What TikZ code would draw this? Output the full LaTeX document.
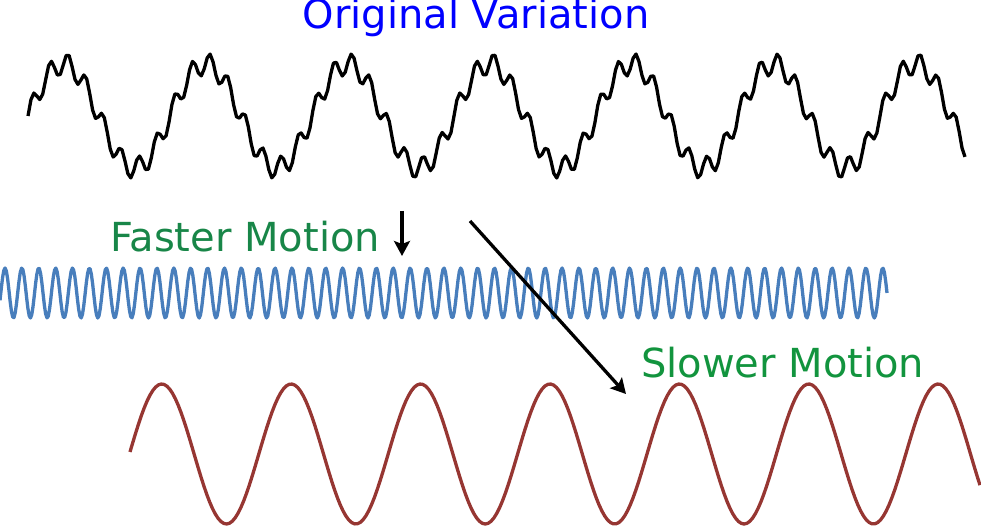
\documentclass[tikz,border=0pt]{standalone}
\usepackage{fontspec}
\setmainfont{DejaVu Sans}
\usetikzlibrary{arrows.meta}
\definecolor{origblue}{RGB}{0,0,255}
\definecolor{fastgreen}{RGB}{24,134,72}
\definecolor{slowgreen}{RGB}{18,148,62}
\definecolor{fastwave}{RGB}{72,126,188}
\definecolor{slowwave}{RGB}{150,54,50}
\tikzset{
    wave/.style={line width=3.3bp, line join=round, variable=\x},
    motionarrow/.style={line width=3.3bp, -{Stealth[length=15bp,width=16bp,inset=3bp]}},
    label/.style={inner sep=0pt, font=\fontsize{40bp}{44bp}\selectfont}
}
\begin{document}
\begin{tikzpicture}[x=1bp, y=-1bp]
    \useasboundingbox (0,0) rectangle (981,526);

    % Labels
    \node[label, text=origblue, anchor=base] (orig) at (476,29) {Original Variation};
    \node[label, text=fastgreen, anchor=base west] (fast) at (110,252) {Faster Motion};
    \node[label, text=slowgreen, anchor=base west] (slow) at (641,378) {Slower Motion};

    % Original variation: slow wave with fast ripple
    \draw[wave, black, domain=28:965, samples=320]
        plot (\x, {116 - 52*sin(360*mod((\x-28)/142,1)) - 11*sin(360*mod((\x-28)/17.75,1))});

    % Faster motion
    \draw[wave, fastwave, domain=0:887, samples=700]
        plot (\x, {293 - 25*sin(360*mod((\x-0.8)/16.88,1))});

    % Slower motion
    \draw[wave, slowwave, domain=130:980, samples=300]
        plot (\x, {454 - 70*sin(360*mod((\x-129.4)/129.4,1))});

    % Arrows
    \coordinate (fasttop) at (402,211);
    \coordinate (fastend) at (402,256);
    \coordinate (slowtop) at (470,221);
    \coordinate (slowend) at (626,394);
    \draw[motionarrow] (fasttop) -- (fastend);
    \draw[motionarrow] (slowtop) -- (slowend);
\end{tikzpicture}
\end{document}
